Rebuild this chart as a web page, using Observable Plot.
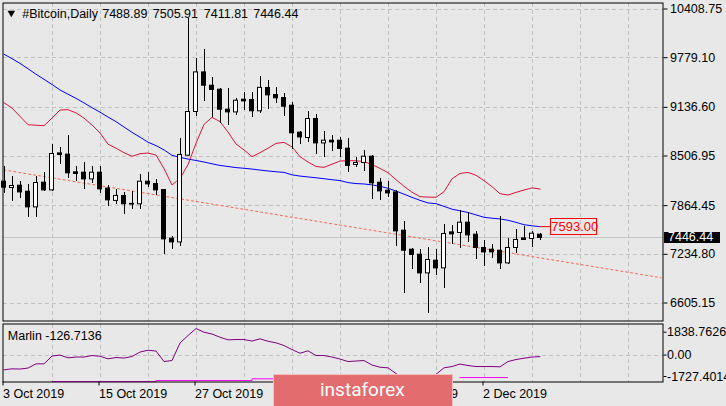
<!DOCTYPE html>
<html><head><meta charset="utf-8">
<script src="https://cdn.jsdelivr.net/npm/d3@7"></script>
<script src="https://cdn.jsdelivr.net/npm/@observablehq/plot@0.6"></script>
<style>
html,body{margin:0;padding:0;background:#e8e8e8;}
#chart{position:relative;width:726px;height:406px;overflow:hidden;background:#e8e8e8;font-family:"Liberation Sans",Arial,sans-serif;}
#chart svg{position:absolute;left:0;overflow:visible;}
.ov{position:absolute;white-space:nowrap;box-sizing:border-box;font-size:12.5px;}
</style></head><body><div id="chart"></div>
<script>
// ---- data (daily candles from 3 Oct 2019) ----
const startDate = "2019-10-03";
const opens = [8174.5,8093.0,8122.8,8045.2,7842.0,8161.6,8062.0,8540.6,8524.8,8295.8,
 8290.9,8204.2,8290.9,8085.5,7926.0,7990.8,7887.4,7882.2,8174.5,8144.7,
 8065.8,7437.1,7389.2,8510.9,9076.2,9588.5,9416.5,9364.7,9106.0,9071.0,
 9235.3,9232.7,9085.3,9386.9,9296.4,9257.3,9157.7,8808.4,8739.8,8985.7,
 8669.9,8704.9,8704.9,8601.5,8390.6,8416.5,8497.9,8161.6,8058.1,8036.1,
 7540.6,7294.8,7230.1,6988.2,7152.5,7052.9,7518.6,7510.8,7644.1,7488.8,
 7316.8,7294.8,7281.9,7117.5,7316.8,7441.0,7433.2,7488.89];
const highs = [8368.6,8239.2,8174.5,8133.1,8248.2,8290.9,8653.2,8614.4,8769.6,8368.6,
 8420.3,8368.6,8368.6,8120.2,8068.4,8029.5,8050.2,8265.0,8299.9,8200.4,
 8068.4,7463.0,8730.8,10279.4,9761.9,9891.2,9520.0,9373.8,9373.8,9252.2,
 9329.8,9323.3,9532.9,9481.1,9386.9,9316.9,9200.4,8821.3,9080.1,9041.3,
 8821.3,8769.6,8747.6,8739.8,8488.9,8575.5,8510.9,8210.7,8174.5,8058.0,
 7657.0,7303.8,7294.8,7316.8,7294.8,7618.2,7605.3,7799.3,7769.6,7527.7,
 7411.2,7359.5,7721.7,7441.0,7553.5,7592.3,7527.7,7505.91];
const lows = [8023.1,7919.6,7958.5,7712.7,7704.9,8049.1,8049.1,8390.6,8218.2,8174.5,
 8074.8,8152.5,8023.1,7856.2,7878.3,7751.5,7816.2,7816.2,8096.9,7989.5,
 7234.0,7298.7,7337.4,8498.0,9019.3,9209.5,9006.4,8921.0,8899.0,9028.4,
 9093.0,9007.6,9059.4,9102.1,9179.7,9020.6,8585.9,8653.2,8682.9,8523.8,
 8488.9,8566.5,8488.9,8290.9,8359.5,8307.7,7950.6,7928.7,7971.4,7333.6,
 6729.4,7036.0,6858.8,6462.9,6958.4,6786.4,7359.5,7313.0,7389.2,7169.3,
 7078.7,7174.5,7032.2,7100.7,7246.9,7411.2,7324.5,7411.81];
const closes = [8096.9,8118.9,8036.1,7842.0,8158.1,8062.0,8532.9,8519.9,8282.9,8275.1,
 8204.2,8290.9,8075.0,7933.1,7990.8,7882.2,7878.3,8174.5,8139.6,8062.0,
 7428.0,7389.2,8519.9,9076.2,9588.5,9416.5,9360.8,9106.0,9071.3,9222.4,
 9213.3,9085.3,9388.5,9291.3,9253.4,9144.8,8800.6,8747.6,8985.7,8669.9,
 8704.9,8682.9,8597.5,8377.6,8416.5,8497.9,8152.5,8049.1,8023.1,7531.5,
 7281.9,7226.2,6988.2,7161.5,7052.9,7497.9,7492.8,7644.1,7479.8,7316.8,
 7259.9,7259.9,7117.5,7316.8,7420.3,7420.3,7501.7,7446.44];
const maBlue = [9824,9766,9705,9636,9565,9499,9432,9361,9307,9253,
 9194,9132,9074,9011,8951,8882,8813,8751,8686,8641,
 8586,8516,8490,8467,8449,8429,8406,8385,8371,8357,
 8348,8338,8325,8313,8303,8295,8263,8247,8236,8225,
 8213,8200,8189,8163,8150,8145,8133,8115,8089,8054,
 8013,7972,7933,7900,7890,7855,7819,7798,7776,7745,
 7714,7702,7693,7675,7649,7618,7604,7593];
const maRed = [9196,9127,9019,8912,8905,8899,8997,9102,9106,9065,
 8997,8908,8805,8660,8608,8550,8503,8537,8545,8520,
 8343,8132,8217,8395,8672,8916,9007,8952,8817,8662,
 8586,8498,8550,8608,8670,8683,8625,8498,8429,8371,
 8360,8401,8442,8446,8446,8433,8397,8346,8292,8200,
 8115,8038,7981,7975,7973,8045,8211,8282,8294,8258,
 8188,8110,8019,8002,8036,8067,8094,8080];
const marlin = [-1191,-1111,-1127,-1047,-708,-708,-80,0,-225,-161,
 -161,-40,-97,-306,-201,-242,-121,242,386,322,
 -523,-443,966,1570,2133,1835,1691,1433,1224,1248,
 1248,1127,1304,1111,982,765,443,145,338,-40,
 -40,-161,-322,-523,-483,-443,-805,-982,-1030,-1489,
 -1900,-2100,-2150,-2000,-1550,-1030,-926,-725,-845,-926,
 -926,-926,-950,-523,-362,-258,-161,-126.7136];
const N_ = null;
const marlinSignal = [N_,N_,N_,N_,N_,N_,-2133,-2133,-2133,-2133,
 -2133,-2133,-2133,-2133,-2133,-2133,-2133,-2133,-2133,-2053,
 -2053,-2053,-2053,-2053,-2053,-2053,-2053,-2053,-2053,-2053,
 -2053,-1916,-1916,-1916,-1916,N_,N_,N_,N_,N_,
 N_,N_,N_,N_,N_,N_,N_,N_,N_,N_,
 N_,N_,N_,N_,N_,N_,N_,-1811,-1811,-1811,
 -1811,-1811,-1811,-1811,N_,N_,N_,N_];
const trendIndex = [0, 82.125];
const trendPrice = [8325.9, 6932.6];
const priceTicks = [10408.75, 9779.10, 9136.60, 8506.95, 7864.45, 7234.80, 6605.15];
const priceTickLabels = ["10408.75","9779.10","9136.60","8506.95","7864.45","7234.80","6605.15"];
const marlinTicks = [1838.7626, 0, -1727.4014];
const marlinTickLabels = ["1838.7626","0.00","-1727.4014"];
const dateTicks = [0, 12, 24, 36, 48, 60];
const dateTickLabels = ["3 Oct 2019","15 Oct 2019","27 Oct 2019","8 Nov 2019","20 Nov 2019","2 Dec 2019"];
const gridDays = [6,12,18,24,30,36,42,48,54,60,66,72,78];
const titleParts = ["#Bitcoin,Daily","7488.89","7505.91","7411.81","7446.44"];
const marlinTitle = "Marlin -126.7136";
const watermark = "instaforex";

// ---- table ----
const start = new Date(startDate);
const N = opens.length;
const candles = opens.map((o, i) => ({
  i, date: d3.utcDay.offset(start, i), open: o, high: highs[i], low: lows[i], close: closes[i],
  blue: maBlue[i], red: maRed[i], marlin: marlin[i], sig: marlinSignal[i]
}));
const trend = trendIndex.map((k, j) => ({k, p: trendPrice[j]}));

const FONT = "'Liberation Sans', Arial, sans-serif";
const gridStyle = {stroke: "#c2c2c2", strokeDasharray: "4,3", shapeRendering: "crispEdges"};
const xScale = {type: "linear", domain: [0, 82.3125], range: [3.5, 662]};

const main = Plot.plot({
  width: 726, height: 322,
  marginLeft: 2.5, marginRight: 63.5, marginTop: 2.5, marginBottom: 1.5,
  style: {background: "transparent", fontFamily: FONT, fontSize: "12.5px", color: "#000"},
  x: {...xScale, axis: null, label: null},
  y: {domain: [6605.15, 10408.75], range: [302.5, 8.5], label: null},
  marks: [
    Plot.ruleX(gridDays, gridStyle),
    Plot.ruleY(priceTicks, gridStyle),
    Plot.ruleY([closes[N - 1]], {stroke: "#c4c4c4", shapeRendering: "crispEdges"}),
    Plot.line(trend, {x: "k", y: "p", stroke: "#ff6347", strokeWidth: 1, strokeDasharray: "2,3"}),
    Plot.line(candles, {x: "i", y: "blue", stroke: "#0000ff", strokeWidth: 1}),
    Plot.line(candles, {x: "i", y: "red", stroke: "#dc143c", strokeWidth: 1}),
    Plot.ruleX(candles, {x: "i", y1: "low", y2: "high", stroke: "#000", shapeRendering: "crispEdges"}),
    Plot.rect(candles, {
      x1: d => d.i - 0.25, x2: d => d.i + 0.25, y1: "open", y2: "close",
      fill: d => d.close >= d.open ? "#ffffff" : "#000000", stroke: "#000", strokeWidth: 1
    }),
    Plot.ruleY([maBlue[N - 1]], {x1: N - 1, x2: N - 1 + 1.35, stroke: "#ff0000"}),
    Plot.frame({stroke: "#000"}),
    Plot.axisY(priceTicks, {anchor: "right", tickSize: 4, tickPadding: 3, label: null,
      tickFormat: d => priceTickLabels[priceTicks.indexOf(d)], fill: "#000", stroke: "#000"}),
    Plot.dot([0], {frameAnchor: "top-left", dx: 8.3, dy: 10, symbol: "triangle", rotate: 180, r: 2.8, fill: "#000", stroke: null}),
    Plot.text([titleParts[0]], {frameAnchor: "top-left", dx: 19.2, dy: 5.8, textAnchor: "start", lineAnchor: "top", fill: "#000"}),
    Plot.text([titleParts[1]], {frameAnchor: "top-left", dx: 99.2, dy: 5.8, textAnchor: "start", lineAnchor: "top", fill: "#000"}),
    Plot.text([titleParts[2]], {frameAnchor: "top-left", dx: 149.8, dy: 5.8, textAnchor: "start", lineAnchor: "top", fill: "#000"}),
    Plot.text([titleParts[3]], {frameAnchor: "top-left", dx: 200.8, dy: 5.8, textAnchor: "start", lineAnchor: "top", fill: "#000"}),
    Plot.text([titleParts[4]], {frameAnchor: "top-left", dx: 250.2, dy: 5.8, textAnchor: "start", lineAnchor: "top", fill: "#000"})
  ]
});
main.style.top = "0px";

const lower = Plot.plot({
  width: 726, height: 84,
  marginLeft: 2.5, marginRight: 63.5, marginTop: 1.5, marginBottom: 24.5,
  style: {background: "transparent", fontFamily: FONT, fontSize: "12.5px", color: "#000"},
  x: {...xScale, label: null},
  y: {domain: [-1727.4014, 1838.7626], range: [54, 9.7], label: null},
  marks: [
    Plot.ruleX(gridDays, gridStyle),
    Plot.ruleY([0], gridStyle),
    Plot.line(candles, {x: "i", y: "marlin", stroke: "#800080", strokeWidth: 1}),
    Plot.line(candles, {x: "i", y: "sig", stroke: "#ff00ff", strokeWidth: 1, curve: "step-after"}),
    Plot.frame({stroke: "#000"}),
    Plot.axisY(marlinTicks, {anchor: "right", tickSize: 3, tickPadding: 1, label: null,
      tickFormat: d => marlinTickLabels[marlinTicks.indexOf(d)], fill: "#000", stroke: "#000"}),
    Plot.axisX(dateTicks, {anchor: "bottom", tickSize: 4, tickPadding: 3, textAnchor: "start", dx: -1, label: null,
      tickFormat: d => dateTickLabels[dateTicks.indexOf(d)], fill: "#000", stroke: "#000"}),
    Plot.text([marlinTitle], {frameAnchor: "top-left", dx: 4.8, dy: 7.2, textAnchor: "start", lineAnchor: "top", fill: "#000"})
  ]
});
lower.style.top = "322px";

const chart = document.getElementById("chart");
chart.appendChild(main);
chart.appendChild(lower);

// labels on the price axis, placed with the plot's own y scale
const ys = main.scale("y");
const yLast = ys.apply(closes[N - 1]);
const bid = document.createElement("div");
bid.className = "ov";
bid.textContent = closes[N - 1].toFixed(2);
Object.assign(bid.style, {left: "664px", top: (yLast - 5.5) + "px", width: "56px", height: "11px",
  background: "#000", color: "#fff", lineHeight: "11px", paddingLeft: "4px"});
chart.appendChild(bid);

const xs = main.scale("x");
const yB = ys.apply(maBlue[N - 1]);
const maLab = document.createElement("div");
maLab.className = "ov";
maLab.textContent = maBlue[N - 1].toFixed(2);
Object.assign(maLab.style, {left: (xs.apply(N - 1 + 1.35)) + "px", top: (yB - 8.5) + "px", width: "47px", height: "17px",
  border: "1px solid #ff0000", color: "#ff0000", lineHeight: "15px", textAlign: "center", fontSize: "13px"});
chart.appendChild(maLab);

// watermark
const wm = document.createElement("div");
Object.assign(wm.style, {position: "absolute", left: "273px", top: "374px", width: "180px", height: "34px",
  background: "#e36c6e", border: "1px solid #f3c0c0", boxSizing: "border-box"});
const wt = document.createElement("span");
wt.textContent = watermark;
Object.assign(wt.style, {position: "absolute", left: "46px", top: "5px", font: "19px Roboto, sans-serif",
  lineHeight: "19px", color: "#ffffff", whiteSpace: "nowrap"});
wm.appendChild(wt);
chart.appendChild(wm);
</script>
</body></html>
